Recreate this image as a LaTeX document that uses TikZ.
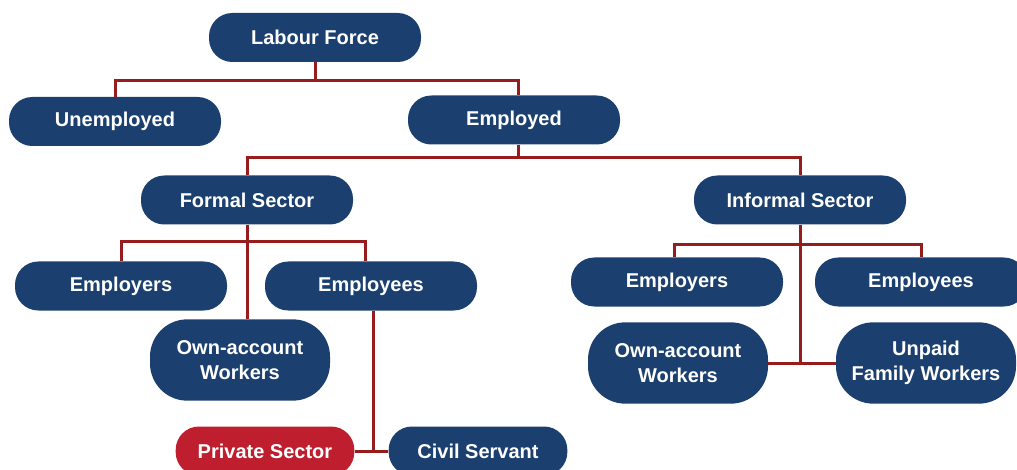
\documentclass[tikz,border=0pt]{standalone}
\usepackage{fontspec}
\setmainfont{Liberation Sans}
\definecolor{boxblue}{RGB}{27,63,110}
\definecolor{linkred}{RGB}{150,28,30}
\definecolor{boxred}{RGB}{190,30,45}
\tikzset{
	box/.style={fill=boxblue, text=white, font=\bfseries\fontsize{15}{18.5}\selectfont, align=center,
		inner sep=0pt, minimum width=159pt, minimum height=36.75pt, rounded corners=17.5pt},
	tallbox/.style={box, minimum width=135pt, minimum height=61pt, rounded corners=28pt},
	redbox/.style={box, fill=boxred, minimum width=134pt},
	link/.style={draw=linkred, line width=2.25pt},
}
\begin{document}
\begin{tikzpicture}[x=0.75pt,y=-0.75pt]
			\useasboundingbox (0,0) rectangle (1017,470);
			% top levels
			\node[box] (force) at (315, 37.5) {Labour Force};
			\node[box] (unemp) at (115, 121.5) {Unemployed};
			\node[box] (emp) at (514, 120) {Employed};
			\node[box] (formal) at (247, 200) {Formal Sector};
			\node[box] (informal) at (800, 200) {Informal Sector};
			% formal sector
			\node[box] (femployers) at (121, 286) {Employers};
			\node[box] (femployees) at (371, 286) {Employees};
			\node[tallbox] (fown) at (240, 360) {Own-account\\Workers};
			\node[redbox] (private) at (265, 451) {Private Sector};
			\node[box, minimum width=134pt] (civil) at (478, 451) {Civil Servant};
			% informal sector
			\node[box] (iemployers) at (677, 282) {Employers};
			\node[box] (iemployees) at (921, 282) {Employees};
			\node[tallbox] (iown) at (678, 363) {Own-account\\Workers};
			\node[tallbox] (unpaid) at (926, 363) {Unpaid\\Family Workers};
			% links
			\draw[link] (force.south) -- ++(0, 18) -| (unemp.north);
			\draw[link] (force.south) -- ++(0, 18) -| ([xshift=3.5pt]emp.north);
			\draw[link] ([xshift=3.5pt]emp.south) -- ++(0, 13) -| (formal.north);
			\draw[link] ([xshift=3.5pt]emp.south) -- ++(0, 13) -| (informal.north);
			\draw[link] (formal.south) -- ++(0, 17) -| (femployers.north);
			\draw[link] (formal.south) -- ++(0, 17) -| ([xshift=-4pt]femployees.north);
			\draw[link] (formal.south) -- (formal.south |- fown.north);
			\draw[link] ([xshift=1.5pt]femployees.south) -- ([xshift=1.5pt]femployees.south |- private.east);
			\draw[link] (private.east) -- (civil.west);
			\draw[link] (informal.south) -- ++(0, 20) -| ([xshift=-2pt]iemployers.north);
			\draw[link] (informal.south) -- ++(0, 20) -| (iemployees.north);
			\draw[link] (informal.south) -- (informal.south |- iown.east);
			\draw[link] (iown.east) -- (unpaid.west);
			\end{tikzpicture}
\end{document}
